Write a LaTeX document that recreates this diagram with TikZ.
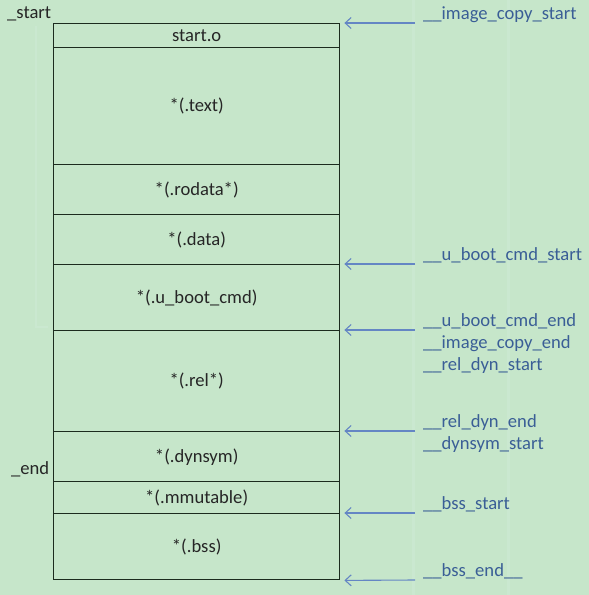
\documentclass[tikz,border=0pt]{standalone}
\usepackage{fontspec}
\setmainfont{Carlito}
\usetikzlibrary{arrows.meta}
\definecolor{sheet}{HTML}{C6E6CA}
\definecolor{grid}{HTML}{CAE8D0}
\definecolor{frameline}{HTML}{1C2B1E}
\definecolor{ptrblue}{HTML}{6486C4}
\definecolor{symblue}{HTML}{3A5E96}
\tikzset{
  sect/.style={draw=frameline, line width=1.4pt, rectangle, anchor=north west,
    minimum width=286pt, inner sep=0pt, font=\fontsize{18.6}{22}\selectfont, text=black!85},
  sym/.style={anchor=base west, inner sep=0pt, text=symblue, font=\fontsize{18.6}{22}\selectfont},
  sidelabel/.style={anchor=base west, inner sep=0pt, text=black!85, font=\fontsize{18.6}{22}\selectfont},
  ptr/.style={draw=ptrblue, line width=1.1pt, -{Straight Barb[length=6pt,width=11pt,line width=1.1pt]}},
}
\begin{document}
\begin{tikzpicture}[x=1pt,y=-1pt]
  % page
  \fill[sheet] (0,0) rectangle (589,595);
  \useasboundingbox (0,0) rectangle (589,595);
  % faint spreadsheet column lines
  \draw[grid, line width=3pt] (413,0) -- (413,595);
  \draw[grid, line width=3pt] (508,0) -- (508,595);
  \draw[grid, line width=2.5pt] (36,26) -- (36,327) -- (48,327);

  % section stack
  \node[sect, minimum height=24pt]  (starto) at (53,23)  {start.o};
  \node[sect, minimum height=117pt] (text)   at (53,47)  {*(.text)};
  \node[sect, minimum height=50pt]  (rodata) at (53,164) {*(.rodata*)};
  \node[sect, minimum height=50pt]  (data)   at (53,214) {*(.data)};
  \node[sect, minimum height=66pt]  (ucmd)   at (53,264) {*(.u\_boot\_cmd)};
  \node[sect, minimum height=101pt] (rel)    at (53,330) {*(.rel*)};
  \node[sect, minimum height=50pt]  (dynsym) at (53,431) {*(.dynsym)};
  \node[sect, minimum height=32pt]  (mmut)   at (53,481) {*(.mmutable)};
  \node[sect, minimum height=66pt]  (bss)    at (53,513) {*(.bss)};

  % left-hand markers
  \node[sidelabel] (lstart) at (7,18)  {\_start};
  \node[sidelabel] (lend)   at (11,474) {\_end};

  % symbol names
  \node[sym] (s1) at (423,19.5)  {\_\_image\_copy\_start};
  \node[sym] (s2) at (423,260.5) {\_\_u\_boot\_cmd\_start};
  \node[sym] (s3) at (423,326.5) {\_\_u\_boot\_cmd\_end};
  \node[sym] (s3b) at (423,348.5) {\_\_image\_copy\_end};
  \node[sym] (s3c) at (423,370.5) {\_\_rel\_dyn\_start};
  \node[sym] (s4) at (423,427.5) {\_\_rel\_dyn\_end};
  \node[sym] (s4b) at (423,449.5) {\_\_dynsym\_start};
  \node[sym] (s5) at (423,509.5) {\_\_bss\_start};
  \node[sym] (s6) at (423,576.5) {\_\_bss\_end\_\_};

  % arrow tails
  \coordinate (t1) at (415,23);
  \coordinate (t2) at (415,264);
  \coordinate (t3) at (415,330);
  \coordinate (t4) at (415,431);
  \coordinate (t5) at (415,513);
  \coordinate (t6) at (415,580);

  \draw[ptr] (t1) -- ([xshift=4pt]starto.north east);
  \draw[ptr] (t2) -- ([xshift=4pt]ucmd.north east);
  \draw[ptr] (t3) -- ([xshift=4pt]rel.north east);
  \draw[ptr] (t4) -- ([xshift=4pt]dynsym.north east);
  \draw[ptr] (t5) -- ([xshift=4pt]bss.north east);
  \draw[ptr] (t6) -- ([xshift=4pt]bss.south east);
\end{tikzpicture}
\end{document}
